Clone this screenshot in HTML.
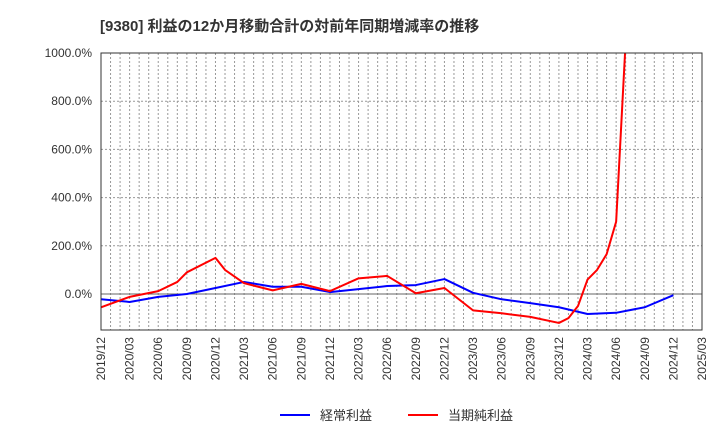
<!DOCTYPE html>
<html><head><meta charset="utf-8"><style>
body{margin:0;background:#fff;font-family:"Liberation Sans","Noto Sans CJK JP",sans-serif}
</style></head><body>
<svg id="c" width="720" height="440" xmlns="http://www.w3.org/2000/svg">
<text x="100" y="31" font-size="15" font-weight="bold" fill="#333">[9380]  利益の12か月移動合計の対前年同期増減率の推移</text>
<defs><clipPath id="clip"><rect x="101" y="53" width="601" height="277"/></clipPath></defs>
<g id="grid"></g>
<g id="series" clip-path="url(#clip)"></g>
<rect x="101" y="53" width="601" height="277" fill="none" stroke="#333" stroke-width="1"/>
<g id="axes"></g>
<g>
<line x1="280" y1="415" x2="310" y2="415" stroke="#0000ff" stroke-width="2"/>
<text x="320" y="420" font-size="13" fill="#333">経常利益</text>
<line x1="408" y1="415" x2="438" y2="415" stroke="#ff0000" stroke-width="2"/>
<text x="448" y="420" font-size="13" fill="#333">当期純利益</text>
</g>
</svg>
<script>
const xTickLabels=["2019/12","2020/03","2020/06","2020/09","2020/12","2021/03","2021/06","2021/09","2021/12","2022/03","2022/06","2022/09","2022/12","2023/03","2023/06","2023/09","2023/12","2024/03","2024/06","2024/09","2024/12","2025/03"];
const yTicks=[0,200,400,600,800,1000];
const blueMonths=[0,3,6,9,12,15,18,21,24,27,30,33,36,39,42,45,48,51,54,57,60];
const blueValues=[-22,-33,-12,0,25,50,30,30,8,20,33,37,62,5,-22,-38,-55,-83,-78,-55,-5];
const redMonths=[0,3,6,8,9,12,13,15,18,21,24,27,30,33,36,39,42,45,48,49,50,51,52,53,54,55];
const redValues=[-55,-12,12,50,90,150,100,45,15,42,12,65,75,3,25,-68,-80,-95,-120,-100,-50,60,100,165,300,1050];
const X0=101,X1=702,Y0=294,PX=24.1,NM=63;
const x=m=>X0+(X1-X0)*m/NM;
const y=v=>Y0-v*PX/100;
const ns="http://www.w3.org/2000/svg";
function mk(t,a,p){const e=document.createElementNS(ns,t);for(const k in a)e.setAttribute(k,a[k]);p.appendChild(e);return e;}
const g=document.getElementById('grid'),ax=document.getElementById('axes'),s=document.getElementById('series');
for(let m=1;m<NM;m++){
 const l=mk('line',{x1:x(m),x2:x(m),y1:53,y2:330,stroke:'#999','stroke-dasharray':'2,2','stroke-width':1},g);
 
 
}
yTicks.forEach(v=>{
 const l=mk('line',{x1:X0,x2:X1,y1:y(v),y2:y(v),stroke:v===0?'#666':'#999','stroke-dasharray':v===0?'':'2,2','stroke-width':1},g);
 
 
 const t=mk('text',{x:92,y:y(v)+4,'font-size':12,fill:'#333','text-anchor':'end'},ax);
 t.textContent=v.toFixed(1)+'%';
 
 
});
xTickLabels.forEach((lb,i)=>{
 const xx=x(i*3);
 const t=mk('text',{x:0,y:0,'font-size':12,fill:'#333','text-anchor':'end',transform:`translate(${xx+4},337) rotate(-90)`},ax);
 t.textContent=lb;
 
 
});
function line(ms,vs,c,name){
 const p=mk('polyline',{points:ms.map((m,i)=>x(m)+','+y(vs[i])).join(' '),fill:'none',stroke:c,'stroke-width':2,'stroke-linejoin':'round'},s);
 
 
}
line(blueMonths,blueValues,'#0000ff','ordinary-profit-line');
line(redMonths,redValues,'#ff0000','net-profit-line');
</script>
</body></html>
